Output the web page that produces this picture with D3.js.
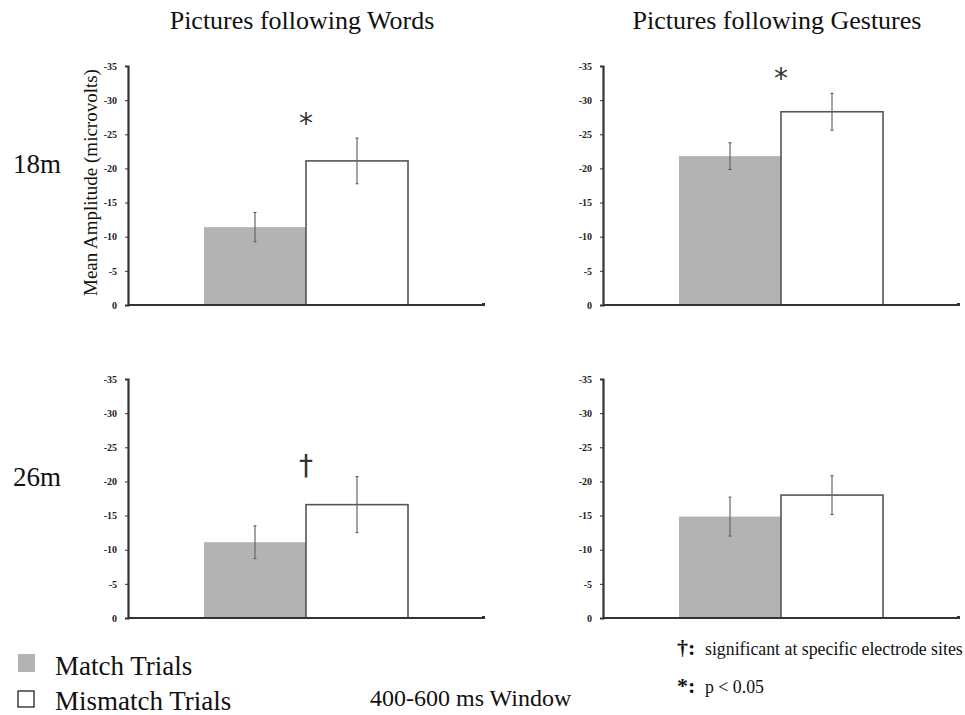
<!DOCTYPE html>
<html>
<head>
<meta charset="utf-8">
<script src="https://cdn.jsdelivr.net/npm/d3@7"></script>
<style>
  body { margin: 0; background: #fff; }
  svg { display: block; font-family: "Liberation Serif", "Times New Roman", serif; }
</style>
</head>
<body>
<div id="chart"></div>
<script>
// values (microvolts, negative is plotted upward)
const panels = ["18m Words", "18m Gestures", "26m Words", "26m Gestures"];
const conditions = ["Match Trials", "Mismatch Trials"];
const matchMean = [-11.4, -21.8, -11.1, -14.85];
const matchErr = [2.15, 1.95, 2.4, 2.85];
const mismatchMean = [-21.1, -28.3, -16.6, -18.0];
const mismatchErr = [3.35, 2.7, 4.1, 2.85];
const markers = ["*", "*", "†", ""];
const columnTitles = ["Pictures following Words", "Pictures following Gestures"];
const rowLabels = ["18m", "26m"];
const yTicks = [0, -5, -10, -15, -20, -25, -30, -35];

const width = 965, height = 715;
const colors = { "Match Trials": "#b3b3b3", "Mismatch Trials": "#ffffff" };

const svg = d3.select("#chart").append("svg")
  .attr("width", width)
  .attr("height", height);

// panel layout: left edge of axis, bottom (zero line)
const colX = [128, 603];
const rowY = [305, 618];
const plotW = 356;
const plotH = 239;

const y = d3.scaleLinear().domain([0, -35]).range([plotH, 0]);
const x0 = d3.scaleBand().domain(["all"]).range([0, plotW]).paddingInner(0).paddingOuter(0.3725);
const x1 = d3.scaleBand().domain(conditions).range([0, x0.bandwidth()]);

panels.forEach((p, i) => {
  const col = i % 2, row = Math.floor(i / 2);
  const g = svg.append("g")
    .attr("transform", `translate(${colX[col]},${rowY[row] - plotH})`);

  const bars = [
    { cond: conditions[0], mean: matchMean[i], err: matchErr[i] },
    { cond: conditions[1], mean: mismatchMean[i], err: mismatchErr[i] }
  ];

  g.selectAll("rect.bar")
    .data(bars)
    .enter()
    .append("rect")
    .attr("class", "bar")
    .attr("x", d => x0("all") + x1(d.cond))
    .attr("y", d => y(d.mean))
    .attr("width", x1.bandwidth())
    .attr("height", d => y(0) - y(d.mean))
    .attr("fill", d => colors[d.cond])
    .attr("stroke", d => d.cond === conditions[1] ? "#555" : "none")
    .attr("stroke-width", 1.6);

  // error bars
  const eb = g.selectAll("g.err")
    .data(bars)
    .enter()
    .append("g")
    .attr("class", "err")
    .attr("transform", d => `translate(${x0("all") + x1(d.cond) + x1.bandwidth() / 2},0)`);

  eb.append("line")
    .attr("y1", d => y(d.mean - d.err))
    .attr("y2", d => y(d.mean + d.err))
    .attr("stroke", "#666")
    .attr("stroke-width", 1.2);
  eb.append("line")
    .attr("x1", -1.5).attr("x2", 1.5)
    .attr("y1", d => y(d.mean - d.err))
    .attr("y2", d => y(d.mean - d.err))
    .attr("stroke", "#555");
  eb.append("line")
    .attr("x1", -1.5).attr("x2", 1.5)
    .attr("y1", d => y(d.mean + d.err))
    .attr("y2", d => y(d.mean + d.err))
    .attr("stroke", "#555");

  // axes
  const yAxis = d3.axisLeft(y)
    .tickValues(yTicks)
    .tickSize(3)
    .tickPadding(8)
    .tickFormat(d => String(d));
  const ya = g.append("g").call(yAxis);
  ya.select(".domain").attr("stroke", "#333").attr("stroke-width", 2.2);
  ya.selectAll(".tick line").attr("stroke", "#333");
  ya.selectAll(".tick text")
    .attr("font-family", "Liberation Serif, serif")
    .attr("font-size", 10)
    .attr("font-weight", "bold")
    .attr("fill", "#222");

  g.append("line")
    .attr("x1", 0).attr("x2", plotW)
    .attr("y1", y(0)).attr("y2", y(0))
    .attr("stroke", "#333")
    .attr("stroke-width", 2.2);
  g.append("rect")
    .attr("x", plotW - 2).attr("y", y(0) - 2)
    .attr("width", 3).attr("height", 3)
    .attr("fill", "#333");

  // significance marker above the bar pair
  if (markers[i]) {
    const top = Math.min(bars[0].mean - bars[0].err, bars[1].mean - bars[1].err);
    const star = markers[i] === "*";
    g.append("text")
      .attr("x", x0("all") + x1.bandwidth())
      .attr("y", y(top) - (star ? 5 : 2))
      .attr("text-anchor", "middle")
      .attr("font-size", star ? 28 : 28)
      .attr("font-family", "DejaVu Sans, sans-serif")
      .attr("fill", "#333")
      .text(markers[i]);
  }
});

// column titles
svg.selectAll("text.coltitle")
  .data(columnTitles)
  .enter()
  .append("text")
  .attr("class", "coltitle")
  .attr("x", (d, i) => colX[i] + plotW / 2 - 4)
  .attr("y", 29)
  .attr("text-anchor", "middle")
  .attr("font-size", 26)
  .attr("fill", "#111")
  .text(d => d);

// row labels
svg.selectAll("text.rowlabel")
  .data(rowLabels)
  .enter()
  .append("text")
  .attr("class", "rowlabel")
  .attr("x", 13)
  .attr("y", (d, i) => rowY[i] - 132)
  .attr("font-size", 27)
  .attr("fill", "#111")
  .text(d => d);

// y axis title (first panel only)
svg.append("text")
  .attr("transform", `translate(97,${rowY[0] - plotH / 2 - 3}) rotate(-90)`)
  .attr("text-anchor", "middle")
  .attr("font-size", 19)
  .attr("fill", "#111")
  .text("Mean Amplitude (microvolts)");

// legend
const legend = svg.selectAll("g.legend")
  .data(conditions)
  .enter()
  .append("g")
  .attr("class", "legend")
  .attr("transform", (d, i) => `translate(18,${654 + i * 37})`);

legend.append("rect")
  .attr("width", d => d === conditions[0] ? 17 : 16)
  .attr("height", d => d === conditions[0] ? 18 : 16)
  .attr("fill", d => colors[d])
  .attr("stroke", d => d === conditions[0] ? "none" : "#222")
  .attr("stroke-width", 1.3);

legend.append("text")
  .attr("x", 37)
  .attr("y", (d, i) => 21 - i * 2)
  .attr("font-size", 27)
  .attr("fill", "#111")
  .text(d => d);

svg.append("text")
  .attr("x", 370)
  .attr("y", 706)
  .attr("font-size", 24)
  .attr("fill", "#111")
  .text("400-600 ms Window");

const notes = [
  { sym: "†:", text: "significant at specific electrode sites", y: 655 },
  { sym: "*:", text: "p < 0.05", y: 693 }
];
const note = svg.selectAll("g.note")
  .data(notes)
  .enter()
  .append("g")
  .attr("class", "note");
note.append("text")
  .attr("x", 677)
  .attr("y", d => d.y)
  .attr("font-size", 22)
  .attr("font-weight", "bold")
  .attr("fill", "#111")
  .text(d => d.sym);
note.append("text")
  .attr("x", 705)
  .attr("y", d => d.y)
  .attr("font-size", 17.8)
  .attr("fill", "#111")
  .text(d => d.text);
</script>
</body>
</html>
